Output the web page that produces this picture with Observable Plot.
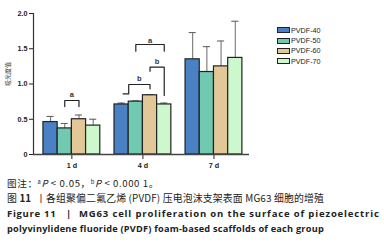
<!DOCTYPE html>
<html>
<head>
<meta charset="utf-8">
<script src="https://cdn.jsdelivr.net/npm/d3@7"></script>
<script src="https://cdn.jsdelivr.net/npm/@observablehq/plot@0.6"></script>
<style>
  body { margin: 0; background: #fff; }
  #wrap { position: relative; width: 384px; height: 251px; overflow: hidden; font-family: "Liberation Sans", Arial, sans-serif; }
  #chart svg [aria-label$="tick label"] { font-weight: bold; }
  #legend { position: absolute; left: 277px; top: 25px; font-size: 7.2px; color: #222; }
  #legend .row { display: flex; align-items: center; height: 10.4px; }
  #legend .sw { width: 11px; height: 4px; border: 1.2px solid #222; margin-right: 1px; }
  #ylab { position: absolute; left: 8px; top: 74px; transform: translate(-50%, -50%) rotate(-90deg); white-space: nowrap; font-family: "Noto Sans CJK SC", sans-serif; font-size: 6px; color: #333; line-height: 1; }
  .cap { position: absolute; white-space: nowrap; color: #222; }
  .c1 { top: 176px; font-family: "Noto Sans CJK SC", sans-serif; font-size: 9.6px; letter-spacing: 0.6px; }
  .c2 { top: 191px; font-family: "Noto Sans CJK SC", sans-serif; font-size: 9.9px; letter-spacing: 0.15px; }
  .c3 { top: 206.5px; font-family: "Open Sans", sans-serif; font-weight: bold; font-size: 9.5px; letter-spacing: 0.85px; }
  .c4 { top: 222px; font-family: "Open Sans", sans-serif; font-weight: bold; font-size: 9.2px; letter-spacing: 0.22px; }
  sup { font-size: 60%; vertical-align: 3px; }
</style>
</head>
<body>
<div id="wrap">
  <div id="chart"></div>
  <div id="legend"></div>
  <div id="ylab"></div>
  <div class="cap c1" style="left:7px">图注：<sup>a</sup><i>P</i> &lt; 0.05，<sup>b</sup><i>P</i> &lt; 0.000 1。</div>
  <div class="cap c2" style="left:7px">图 <b>11</b></div>
  <div class="cap c2" style="left:36px">丨</div>
  <div class="cap c2" style="left:46px">各组聚偏二氟乙烯 (PVDF) 压电泡沫支架表面 MG63 细胞的增殖</div>
  <div class="cap c3" style="left:7px; letter-spacing:0.7px">Figure 11</div>
  <div class="cap c3" style="left:66px">|</div>
  <div class="cap c3" style="left:79px">MG63 cell proliferation on the surface of piezoelectric</div>
  <div class="cap c4" style="left:7px">polyvinylidene fluoride (PVDF) foam-based scaffolds of each group</div>
</div>
<script>
const days = ["1 d", "4 d", "7 d"];
const series = ["PVDF-40", "PVDF-50", "PVDF-60", "PVDF-70"];
const colors = ["#4a80c4", "#72c9b2", "#e2c899", "#cdf8cd"];
const means = {
  "PVDF-40": [0.46, 0.71, 1.35],
  "PVDF-50": [0.37, 0.75, 1.17],
  "PVDF-60": [0.50, 0.84, 1.25],
  "PVDF-70": [0.41, 0.71, 1.37]
};
const errors = {
  "PVDF-40": [0.08, 0.02, 0.38],
  "PVDF-50": [0.07, 0.01, 0.36],
  "PVDF-60": [0.06, 0.01, 0.36],
  "PVDF-70": [0.09, 0.02, 0.52]
};
const yTicks = [0, 0.5, 1.0, 1.5, 2.0];
const yLabel = "吸光度值";
// significance brackets: group index, polyline points as [bar position, value], label position
const brackets = [
  {g: 0, label: "a", pts: [[1, 0.68], [1, 0.766], [2, 0.766], [2, 0.68]], lp: 1.5, ly: 0.845},
  {g: 1, label: "b", pts: [[0.1, 0.861], [0.5, 0.861], [0.5, 0.993], [2, 0.993], [2, 0.932]], lp: 1.25, ly: 1.075},
  {g: 1, label: "b", pts: [[2, 1.18], [2, 1.238], [3, 1.238], [3, 0.837]], lp: 2.5, ly: 1.32},
  {g: 1, label: "a", pts: [[1, 1.465], [1, 1.56], [3, 1.56], [3, 1.465]], lp: 2, ly: 1.61}
];

const bw = 0.2;
const xc = (g, p) => g - 1.5 * bw + bw * p;
const rows = [];
series.forEach((s, i) => days.forEach((d, g) => rows.push({s, i, g, v: means[s][g], e: errors[s][g]})));
const segs = [];
brackets.forEach((b, k) => b.pts.forEach(([p, y], j) => segs.push({k, x: xc(b.g, p), y})));
const labels = brackets.map(b => ({x: xc(b.g, b.lp), y: b.ly, t: b.label}));
const xDomain = [-0.54, 2.5];
const cap = 0.05;

const plot = Plot.plot({
  width: 384,
  height: 172,
  marginLeft: 33,
  marginRight: 135,
  marginTop: 13,
  marginBottom: 18,
  style: {fontFamily: "Liberation Sans, Arial, sans-serif", fontSize: "7.2px", color: "#222", background: "transparent"},
  x: {type: "linear", domain: xDomain, ticks: [0, 1, 2], tickFormat: i => days[i], tickSize: 5, tickPadding: 3, label: null},
  y: {domain: [0, 2], ticks: yTicks, tickFormat: d => d === 0 ? "0" : d.toFixed(1), tickSize: 4, tickPadding: 2, label: null},
  color: {domain: series, range: colors},
  marks: [
    Plot.ruleX(rows, {x: d => xc(d.g, d.i), y1: d => d.v, y2: d => d.v + d.e, stroke: "#777", strokeWidth: 1.1}),
    Plot.ruleY(rows, {x1: d => xc(d.g, d.i) - cap, x2: d => xc(d.g, d.i) + cap, y: d => d.v + d.e, stroke: "#666", strokeWidth: 1.1}),
    Plot.rectY(rows, {x1: d => xc(d.g, d.i) - bw / 2, x2: d => xc(d.g, d.i) + bw / 2, y1: 0, y2: d => d.v, fill: d => d.s, stroke: "#222", strokeWidth: 1.2}),
    Plot.line(segs, {x: "x", y: "y", z: "k", stroke: "#222", strokeWidth: 1.2}),
    Plot.text(labels, {x: "x", y: "y", text: "t", fontSize: 7.5, fill: "#333", fontWeight: "bold"}),
    Plot.ruleX([xDomain[0]], {y1: 0, y2: 2, stroke: "#333", strokeWidth: 1.2}),
    Plot.ruleY([0], {stroke: "#444", strokeWidth: 1.5})
  ]
});
document.getElementById("chart").appendChild(plot);
document.getElementById("ylab").textContent = yLabel;

const leg = document.getElementById("legend");
series.forEach((s, i) => {
  const r = document.createElement("div");
  r.className = "row";
  r.innerHTML = `<span class="sw" style="background:${colors[i]}"></span><span>${s}</span>`;
  leg.appendChild(r);
});
</script>
</body>
</html>
